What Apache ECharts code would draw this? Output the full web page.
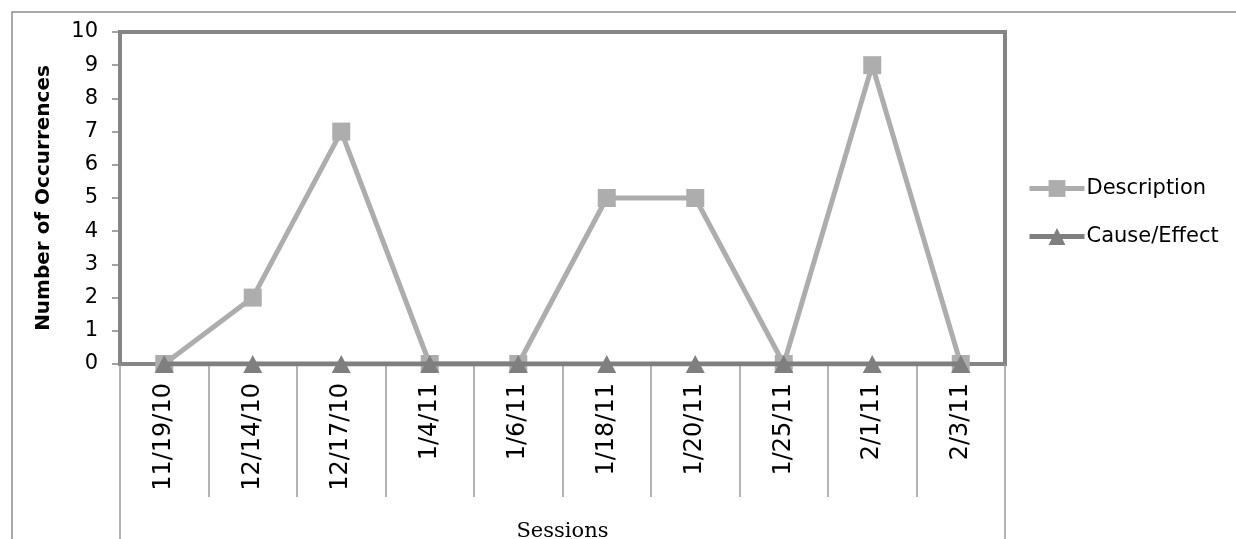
<!DOCTYPE html>
<html>
<head>
<meta charset="utf-8">
<script src="https://cdn.jsdelivr.net/npm/echarts@6/dist/echarts.min.js"></script>
<style>
html,body{margin:0;padding:0;background:#fff;}
#chart{width:1236px;height:539px;}
</style>
</head>
<body>
<div id="chart"></div>
<script>
const sessions = ['11/19/10','12/14/10','12/17/10','1/4/11','1/6/11','1/18/11','1/20/11','1/25/11','2/1/11','2/3/11'];
const description = [0,2,7,0,0,5,5,0,9,0];
const causeEffect = [0,0,0,0,0,0,0,0,0,0];
const groupLabel = ['Sessions'];
const yTicks = {min:0, max:10, interval:1};

const chart = echarts.init(document.getElementById('chart'), null, {renderer:'canvas'});
chart.setOption({
  backgroundColor:'#ffffff',
  animation:false,
  graphic:[{
    type:'rect', silent:true, z:-1,
    shape:{x:12, y:12, width:1400, height:700},
    style:{fill:'none', stroke:'#8c8c8c', lineWidth:1.5}
  }],
  grid:{left:120, top:32, right:231, bottom:175, outerBoundsMode:'none', containLabel:false,
        show:true, borderColor:'#858585', borderWidth:4, backgroundColor:'transparent'},
  legend:{
    orient:'vertical', left:1027, top:178, padding:0, itemGap:27, itemWidth:55, itemHeight:21,
    lineStyle:{width:5},
    textStyle:{fontFamily:'DejaVu Sans', fontSize:21, color:'#000', padding:[0,0,0,-3]},
    data:['Description','Cause/Effect']
  },
  xAxis:[{
    type:'category', data:sessions, boundaryGap:true, position:'bottom',
    axisLine:{show:false},
    axisTick:{show:true, interval:0, length:133, lineStyle:{color:'#9a9a9a', width:1.5}},
    axisLabel:{interval:0, rotate:90, margin:19, fontFamily:'DejaVu Sans', fontSize:24, color:'#000'}
  },{
    type:'category', data:groupLabel, boundaryGap:true, position:'bottom',
    axisLine:{show:false},
    axisTick:{show:true, interval:0, length:180, lineStyle:{color:'#9a9a9a', width:1.5}},
    axisLabel:{interval:0, margin:157, fontFamily:'DejaVu Serif', fontSize:21, color:'#000'}
  }],
  yAxis:{
    type:'value', min:yTicks.min, max:yTicks.max, interval:yTicks.interval,
    name:'Number of Occurrences', nameLocation:'middle', nameGap:66,
    nameTextStyle:{fontFamily:'DejaVu Sans', fontWeight:'bold', fontSize:20, color:'#000'},
    axisLine:{show:false},
    axisTick:{show:true, length:8, lineStyle:{color:'#858585', width:1.5}},
    splitLine:{show:false},
    axisLabel:{margin:22, fontFamily:'DejaVu Sans', fontSize:21, color:'#000'}
  },
  series:[{
    name:'Description', type:'line', data:description,
    symbol:'rect', symbolSize:18,
    lineStyle:{color:'#adadad', width:5},
    itemStyle:{color:'#adadad'}, z:3
  },{
    name:'Cause/Effect', type:'line', data:causeEffect,
    symbol:'triangle', symbolSize:[19,18],
    lineStyle:{color:'#7f7f7f', width:5},
    itemStyle:{color:'#7f7f7f'}, z:4
  }]
});
</script>
</body>
</html>
